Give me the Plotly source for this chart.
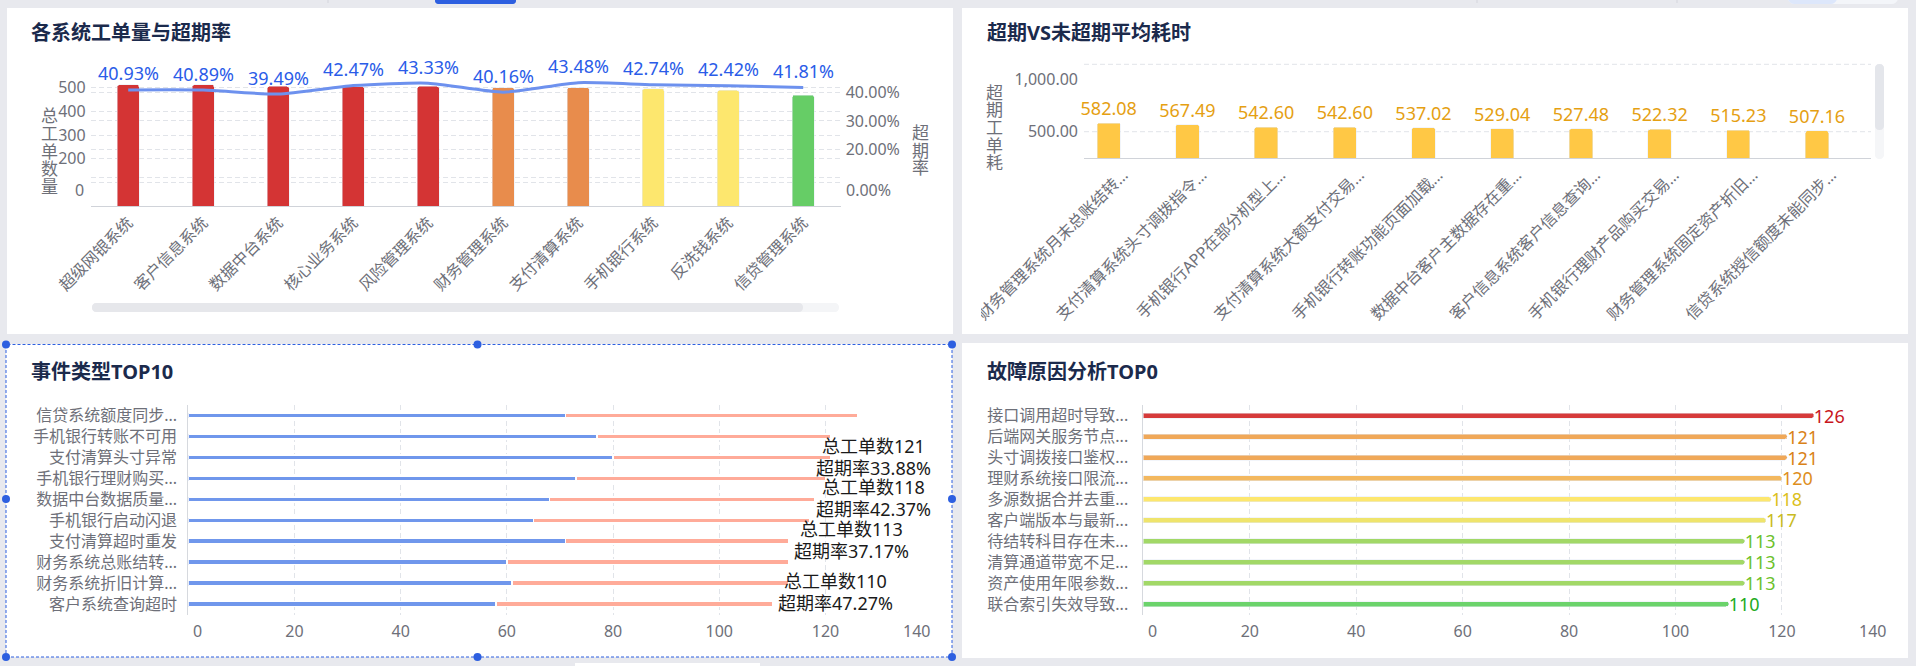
import plotly.graph_objects as go

W, H = 1916, 666
FONT = "Noto Sans, Noto Sans CJK SC, sans-serif"
AXIS_GRAY = "#6e7079"
GRID = "#e1e4e9"

# ---- panel 1: 各系统工单量与超期率
sys_names = ["超级网银系统", "客户信息系统", "数据中台系统", "核心业务系统", "风险管理系统",
             "财务管理系统", "支付清算系统", "手机银行系统", "反洗钱系统", "信贷管理系统"]
sys_orders = [513, 513, 506, 505, 506, 501, 501, 496, 489, 469]
sys_overdue_rate = [40.93, 40.89, 39.49, 42.47, 43.33, 40.16, 43.48, 42.74, 42.42, 41.81]

# ---- panel 2: 超期VS未超期平均耗时
avg_names = ["财务管理系统月末总账结转…", "支付清算系统头寸调拨指令…", "手机银行APP在部分机型上…",
             "支付清算系统大额支付交易…", "手机银行转账功能页面加载…", "数据中台客户主数据存在重…",
             "客户信息系统客户信息查询…", "手机银行理财产品购买交易…", "财务管理系统固定资产折旧…",
             "信贷系统授信额度未能同步…"]
avg_overdue_time = [582.08, 567.49, 542.60, 542.60, 537.02, 529.04, 527.48, 522.32, 515.23, 507.16]

# ---- panel 3: 事件类型TOP10
event_names = ["信贷系统额度同步...", "手机银行转账不可用", "支付清算头寸异常", "手机银行理财购买...",
               "数据中台数据质量...", "手机银行启动闪退", "支付清算超时重发", "财务系统总账结转...",
               "财务系统折旧计算...", "客户系统查询超时"]
event_normal = [71, 77, 80, 73, 68, 65, 71, 60, 61, 58]
event_overdue = [55, 44, 41, 47, 50, 52, 42, 53, 52, 52]
event_labelled = [2, 4, 6, 9]

# ---- panel 4: 故障原因分析TOP0
cause_names = ["接口调用超时导致...", "后端网关服务节点...", "头寸调拨接口鉴权...", "理财系统接口限流...",
               "多源数据合并去重...", "客户端版本与最新...", "待结转科目存在未...", "清算通道带宽不足...",
               "资产使用年限参数...", "联合索引失效导致..."]
cause_counts = [126, 121, 121, 120, 118, 117, 113, 113, 113, 110]

count_ticks = [0, 20, 40, 60, 80, 100, 120, 140]

# styles
sys_colors = ["#d43434"] * 5 + ["#e88c4c"] * 2 + ["#fde76e"] * 2 + ["#66cd66"]
cause_colors = ["#d63a3a", "#f0a858", "#f0a858", "#f3b85f", "#fde76e", "#efe46c",
                "#a2d867", "#a2d867", "#a2d867", "#6bd36b"]
cause_text_colors = ["#c8161d", "#d98218", "#d98218", "#de8e1d", "#dcc01c", "#c9bb22",
                     "#6cc12b", "#6cc12b", "#6cc12b", "#22aa22"]


def px(x):
    return x / W


def py(y):
    return 1 - y / H


def rrect(x0, y0, x1, y1, r, color, layer="below"):
    k = 0.5523 * r
    pts = [("M", [(x0 + r, y0)]), ("L", [(x1 - r, y0)]),
           ("C", [(x1 - r + k, y0), (x1, y0 + r - k), (x1, y0 + r)]), ("L", [(x1, y1 - r)]),
           ("C", [(x1, y1 - r + k), (x1 - r + k, y1), (x1 - r, y1)]), ("L", [(x0 + r, y1)]),
           ("C", [(x0 + r - k, y1), (x0, y1 - r + k), (x0, y1 - r)]), ("L", [(x0, y0 + r)]),
           ("C", [(x0, y0 + r - k), (x0 + r - k, y0), (x0 + r, y0)])]
    path = " ".join(c + " " + " ".join(f"{px(a):.5f},{py(b):.5f}" for a, b in p) for c, p in pts) + " Z"
    return dict(type="path", path=path, xref="paper", yref="paper", fillcolor=color,
                line=dict(width=0), layer=layer)


def box(x0, y0, x1, y1, color, layer="below"):
    return dict(type="rect", xref="paper", yref="paper", x0=px(x0), x1=px(x1), y0=py(y1), y1=py(y0),
                fillcolor=color, line=dict(width=0), layer=layer)


fig = go.Figure()

fig.add_trace(go.Bar(x=sys_names, y=sys_orders, width=0.29, xaxis="x", yaxis="y",
                     marker=dict(color=sys_colors, cornerradius=2)))
fig.add_trace(go.Scatter(x=sys_names, y=sys_overdue_rate, xaxis="x", yaxis="y2", mode="lines",
                         line=dict(color="#6d91ee", width=3, shape="spline", smoothing=0.6)))

fig.add_trace(go.Bar(x=avg_names, y=avg_overdue_time, width=0.296, offset=-0.334,
                     xaxis="x2", yaxis="y3", marker=dict(color="#ffc845", cornerradius=2),
                     text=[f"{v:.2f}" for v in avg_overdue_time], textposition="outside",
                     constraintext="none", cliponaxis=False,
                     textfont=dict(size=18, color="#e5a012")))

fig.add_trace(go.Bar(x=event_normal, y=event_names, orientation="h", width=0.24,
                     xaxis="x3", yaxis="y4",
                     marker=dict(color="#7097ec", line=dict(color="white", width=1.5))))
fig.add_trace(go.Bar(x=event_overdue, y=event_names, orientation="h", width=0.24,
                     xaxis="x3", yaxis="y4",
                     marker=dict(color="#ffab99", line=dict(color="white", width=1.5))))

fig.add_trace(go.Bar(x=cause_counts, y=cause_names, orientation="h", width=0.24,
                     xaxis="x4", yaxis="y5", marker=dict(color=cause_colors, cornerradius=3),
                     text=[str(v) for v in cause_counts], textposition="outside",
                     constraintext="none", cliponaxis=False,
                     textfont=dict(size=18, color=cause_text_colors)))

tick_font = dict(size=16, color=AXIS_GRAY, family=FONT)
grid = dict(showgrid=True, gridcolor=GRID, griddash="5px,3px", gridwidth=1, zeroline=False)
common = dict(automargin=False)
# the end labels of the count axes are drawn inside the axis, see annotations below
count_axis = dict(range=[0, 140], tickvals=count_ticks,
                  ticktext=[""] + [str(v) for v in count_ticks[1:-1]] + [""],
                  tickfont=tick_font, ticklabelstandoff=5, **grid, **common)

fig.update_layout(
    width=W, height=H, margin=dict(l=0, r=0, t=0, b=0, autoexpand=False),
    paper_bgcolor="#e8e9ee", plot_bgcolor="white",
    font=dict(family=FONT, color=AXIS_GRAY), showlegend=False, barmode="stack",
    xaxis=dict(domain=[px(90.7), px(840.7)], anchor="y", type="category", range=[-0.5, 9.5],
               tickangle=-45, tickfont=tick_font, showline=True, linecolor="#d0d3d9",
               linewidth=1.2, ticks="", **common),
    yaxis=dict(domain=[py(206), py(64)], anchor="x", range=[0, 601],
               tickvals=[100, 200, 300, 400, 500, 600], ticktext=["", "200", "300", "400", "500", ""],
               tickfont=tick_font, ticklabelstandoff=4, **grid, **common),
    yaxis2=dict(overlaying="y", side="right", anchor="x", range=[0, 50.083],
                tickvals=[10, 20, 30, 40, 50], ticktext=["", "20.00%", "30.00%", "40.00%", ""],
                tickfont=tick_font, ticklabelstandoff=4, **grid, **common),
    xaxis2=dict(domain=[px(1084), px(1871)], anchor="y3", type="category", range=[-0.5, 9.5],
                tickangle=-45, tickfont=tick_font, showline=True, linecolor="#d0d3d9",
                linewidth=1.2, ticks="", tickmode="array", tickvals=avg_names, **common),
    yaxis3=dict(domain=[py(158.3), py(64.3)], anchor="x2", range=[248, 1139],
                tickvals=[500, 1000], ticktext=["500.00", "1,000.00"], tickfont=tick_font,
                showgrid=False, zeroline=False, ticklabelstandoff=5, **common),
    xaxis3=dict(domain=[px(188.2), px(931.7)], anchor="y4", **count_axis),
    yaxis4=dict(domain=[py(614.5), py(405.2)], anchor="x3", type="category", range=[9.5, -0.5],
                tickmode="array", tickvals=event_names,
                showline=True, linecolor="#d6d9de", tickfont=tick_font, ticklabelstandoff=7,
                **common),
    xaxis4=dict(domain=[px(1143.4), px(1888.3)], anchor="y5", **count_axis),
    yaxis5=dict(domain=[py(614.5), py(405.2)], anchor="x4", type="category", range=[9.5, -0.5],
                tickmode="array", tickvals=cause_names,
                showline=True, linecolor="#d6d9de", tickfont=tick_font, ticklabelstandoff=11,
                **common),
)

shapes = [
    box(7, 8, 953, 334, "white"),
    box(962, 8, 1908, 334, "white"),
    box(6, 344, 952, 657, "white"),
    box(962, 343, 1908, 658, "white"),
    box(575, 663, 760, 666, "white"),
    rrect(435, -6, 516, 4, 3, "#2d5fe0"),
    box(327.5, 0, 328.5, 3, "#d3d6dc"),
    box(1476.5, 0, 1477.5, 3, "#d3d6dc"),
    box(1676.5, 0, 1677.5, 3, "#d3d6dc"),
    rrect(1788, -8, 1898, 4, 6, "#f3f5f9"),
    rrect(1788, -8, 1837, 4, 6, "#dde7fb"),
    # panel 1 scrollbar
    rrect(92, 303, 839, 312, 4, "#f4f5f7"),
    rrect(92, 303, 803, 312, 4, "#e6e7eb"),
    # panel 2 vertical scrollbar
    rrect(1875, 64, 1884, 159, 4, "#f5f6f8"),
    rrect(1875, 64, 1884, 130, 4, "#e4e6eb"),
    # panel 2 gridlines
    dict(type="line", xref="x2 domain", yref="y3", x0=0, x1=1, y0=500, y1=500,
         line=dict(color=GRID, width=1, dash="5px,3px"), layer="below"),
    dict(type="line", xref="x2 domain", yref="y3 domain", x0=0, x1=1, y0=1, y1=1,
         line=dict(color=GRID, width=1, dash="5px,3px"), layer="below"),
    # panel 2 clipping of the first label
    box(962, 165, 981, 334, "white", layer="above"),
    box(953, 165, 962, 334, "#e8e9ee", layer="above"),
    # selection frame on panel 3
    dict(type="rect", xref="paper", yref="paper", x0=px(6), x1=px(952), y0=py(657), y1=py(344.5),
         line=dict(color="#2d5fe0", width=1, dash="3px,2px"), fillcolor="rgba(0,0,0,0)",
         layer="above"),
]
for cx in (6, 477.5, 952):
    for cy in (344.5, 499, 657):
        if cx == 477.5 and cy == 499:
            continue
        shapes.append(dict(type="circle", xref="paper", yref="paper",
                           x0=px(cx - 4), x1=px(cx + 4), y0=py(cy + 4), y1=py(cy - 4),
                           fillcolor="#2d5fe0", line=dict(width=0), layer="above"))
fig.update_layout(shapes=shapes)

ann = []
title_font = dict(size=20, color="#1b2a4c", family=FONT)
for text, x, y in [("各系统工单量与超期率", 29, 32), ("超期VS未超期平均耗时", 985, 32),
                   ("事件类型TOP10", 29, 372), ("故障原因分析TOP0", 985, 372)]:
    ann.append(dict(text=f"<b>{text}</b>", x=px(x), y=py(y), xref="paper", yref="paper",
                    xanchor="left", yanchor="middle", showarrow=False, font=title_font))

# vertical axis names, one character per line
for name, x, yc in [("总工单数量", 39, 137.5), ("超期率", 920, 136.5), ("超期工单耗", 994.5, 114)]:
    n = len(name)
    for i, ch in enumerate(name):
        ann.append(dict(text=ch, x=px(x), y=py(yc + (i - (n - 1) / 2) * 17.7), xref="paper",
                        yref="paper", showarrow=False, font=dict(size=17, color=AXIS_GRAY)))

# min labels sit above the axis line
ann.append(dict(text="0", x=px(85.5), y=py(190), xref="paper", yref="paper", xanchor="right",
                yanchor="middle", showarrow=False, font=tick_font))
ann.append(dict(text="0.00%", x=px(844), y=py(190), xref="paper", yref="paper", xanchor="left",
                yanchor="middle", showarrow=False, font=tick_font))

# end labels of the count axes, aligned inward
for left, right in [(190.5, 931.5), (1146, 1888)]:
    ann.append(dict(text=str(count_ticks[0]), x=px(left), y=py(630.5), xref="paper", yref="paper",
                    xanchor="left", yanchor="middle", showarrow=False, font=tick_font))
    ann.append(dict(text=str(count_ticks[-1]), x=px(right), y=py(630.5), xref="paper",
                    yref="paper", xanchor="right", yanchor="middle", showarrow=False,
                    font=tick_font))

# rate labels above the line
for name, v in zip(sys_names, sys_overdue_rate):
    ann.append(dict(text=f"{v:.2f}%", x=name, y=v, xref="x", yref="y2", yshift=16.5,
                    showarrow=False, font=dict(size=18, color="#2a5ce8")))

# two-line labels of the stacked bars
label_yshift = {9: (23, 1)}
for i in event_labelled:
    total = event_normal[i] + event_overdue[i]
    rate = event_overdue[i] / total * 100
    s1, s2 = label_yshift.get(i, (12, -10))
    for text, s in [(f"总工单数{total}", s1), (f"超期率{rate:.2f}%", s2)]:
        ann.append(dict(text=text, x=min(total + 11.9, 129.1), y=event_names[i], xref="x3",
                        yref="y4", showarrow=False, yshift=s, font=dict(size=18, color="#1a1a1a")))

fig.update_layout(annotations=ann)

fig.write_html("out.html", config={"displayModeBar": False},
               post_script="document.body.style.margin='0';"
                           "document.body.style.background='#e8e9ee';")
